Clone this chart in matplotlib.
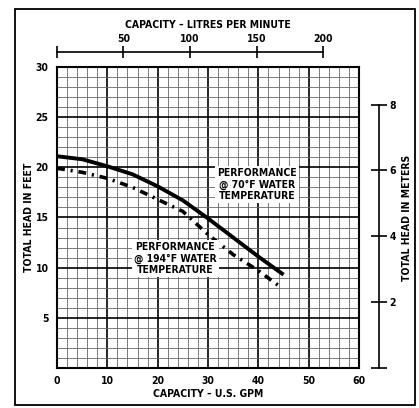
import numpy as np
import matplotlib
matplotlib.use('Agg')
from matplotlib import pyplot as plt
from matplotlib.patches import Rectangle
from matplotlib.ticker import MultipleLocator

plt.rcParams['font.family'] = ['DejaVu Sans']
plt.rcParams['font.stretch'] = 'condensed'
plt.rcParams['font.weight'] = 'bold'
plt.rcParams['axes.labelweight'] = 'bold'

gpm_70 = [0, 5, 10, 15, 20, 25, 30, 35, 40, 45]
head_70 = [21.1, 20.8, 20.1, 19.3, 18.1, 16.7, 14.9, 13.0, 11.1, 9.3]
gpm_194 = [0, 5, 10, 15, 20, 25, 30, 35, 40, 44.3]
head_194 = [19.9, 19.5, 18.9, 18.0, 16.8, 15.6, 13.3, 11.3, 9.7, 8.1]

x_ticks = [0, 10, 20, 30, 40, 50, 60]
y_ticks = [5, 10, 15, 20, 25, 30]
lpm_ticks = [0, 50, 100, 150, 200]
m_ticks = [0, 2, 4, 6, 8]
LPM_PER_GPM = 3.785
FT_PER_M = 3.2808

fig = plt.figure(figsize=(4.19, 4.08), dpi=100)
ax = fig.add_axes([0.136, 0.098, 0.721, 0.738])
ax.set_xlim(0, 60)
ax.set_ylim(0, 30)

ax.xaxis.set_major_locator(MultipleLocator(10))
ax.xaxis.set_minor_locator(MultipleLocator(2))
ax.yaxis.set_major_locator(MultipleLocator(5))
ax.yaxis.set_minor_locator(MultipleLocator(1))
ax.grid(which='minor', color='#666666', lw=0.6)
ax.grid(which='major', color='black', lw=1.2)
ax.set_axisbelow(True)
for s in ax.spines.values():
    s.set_linewidth(1.5)

ax.set_xticks(x_ticks)
ax.set_yticks(y_ticks)
ax.tick_params(which='both', length=0)
ax.tick_params(axis='x', pad=6, labelsize=7.5)
ax.tick_params(axis='y', pad=6, labelsize=7.5)

ax.plot(gpm_70, head_70, color='black', lw=2.8, solid_capstyle='butt')
ax.plot(gpm_194, head_194, color='black', lw=2.6, linestyle=(0, (2.2, 1.6, 0.6, 1.6)))

ax.text(39.8, 18.3, 'PERFORMANCE\n@ 70\u00b0F WATER\nTEMPERATURE', ha='center', va='center',
        fontsize=7.5, linespacing=1.15,
        bbox=dict(facecolor='white', edgecolor='none', pad=1.5))
ax.text(23.5, 10.9, 'PERFORMANCE\n@ 194\u00b0F WATER\nTEMPERATURE', ha='center', va='center',
        fontsize=7.5, linespacing=1.15,
        bbox=dict(facecolor='white', edgecolor='none', pad=1.5))

ax.set_xlabel('CAPACITY \u2013 U.S. GPM', fontsize=7.5, labelpad=2)
ax.set_ylabel('TOTAL HEAD IN FEET', fontsize=7.5, labelpad=1)

# litres per minute scale on top
ax2 = ax.twiny()
ax2.set_xlim(0, 60 * LPM_PER_GPM)
for k in ['left', 'right', 'bottom']:
    ax2.spines[k].set_visible(False)
ax2.spines['top'].set_position(('outward', 11))
ax2.spines['top'].set_bounds(0, 200)
ax2.spines['top'].set_linewidth(1.2)
ax2.set_xticks(lpm_ticks)
ax2.set_xticklabels([''] + [str(v) for v in lpm_ticks[1:]])
ax2.tick_params(axis='x', direction='inout', length=9, width=1.2, labelsize=7.5, pad=1)
ax2.set_xlabel('CAPACITY \u2013 LITRES PER MINUTE', fontsize=7.5, labelpad=4)

# meters scale on right
ax3 = ax.twinx()
ax3.set_ylim(0, 30 / FT_PER_M)
for k in ['left', 'top', 'bottom']:
    ax3.spines[k].set_visible(False)
ax3.spines['right'].set_position(('outward', 14))
ax3.spines['right'].set_bounds(0, 8)
ax3.spines['right'].set_linewidth(1.2)
ax3.set_yticks(m_ticks)
ax3.set_yticklabels([''] + [str(v) for v in m_ticks[1:]])
ax3.tick_params(axis='y', direction='inout', length=12, width=1.2, labelsize=7.5, pad=2)
ax3.set_ylabel('TOTAL HEAD IN METERS', fontsize=7.5, labelpad=4)

fig.patches.append(Rectangle((15 / 419, 3 / 408), 400 / 419, 396 / 408,
                             transform=fig.transFigure, fill=False,
                             edgecolor='black', lw=1.3))

fig.savefig('out.png', dpi=100)
